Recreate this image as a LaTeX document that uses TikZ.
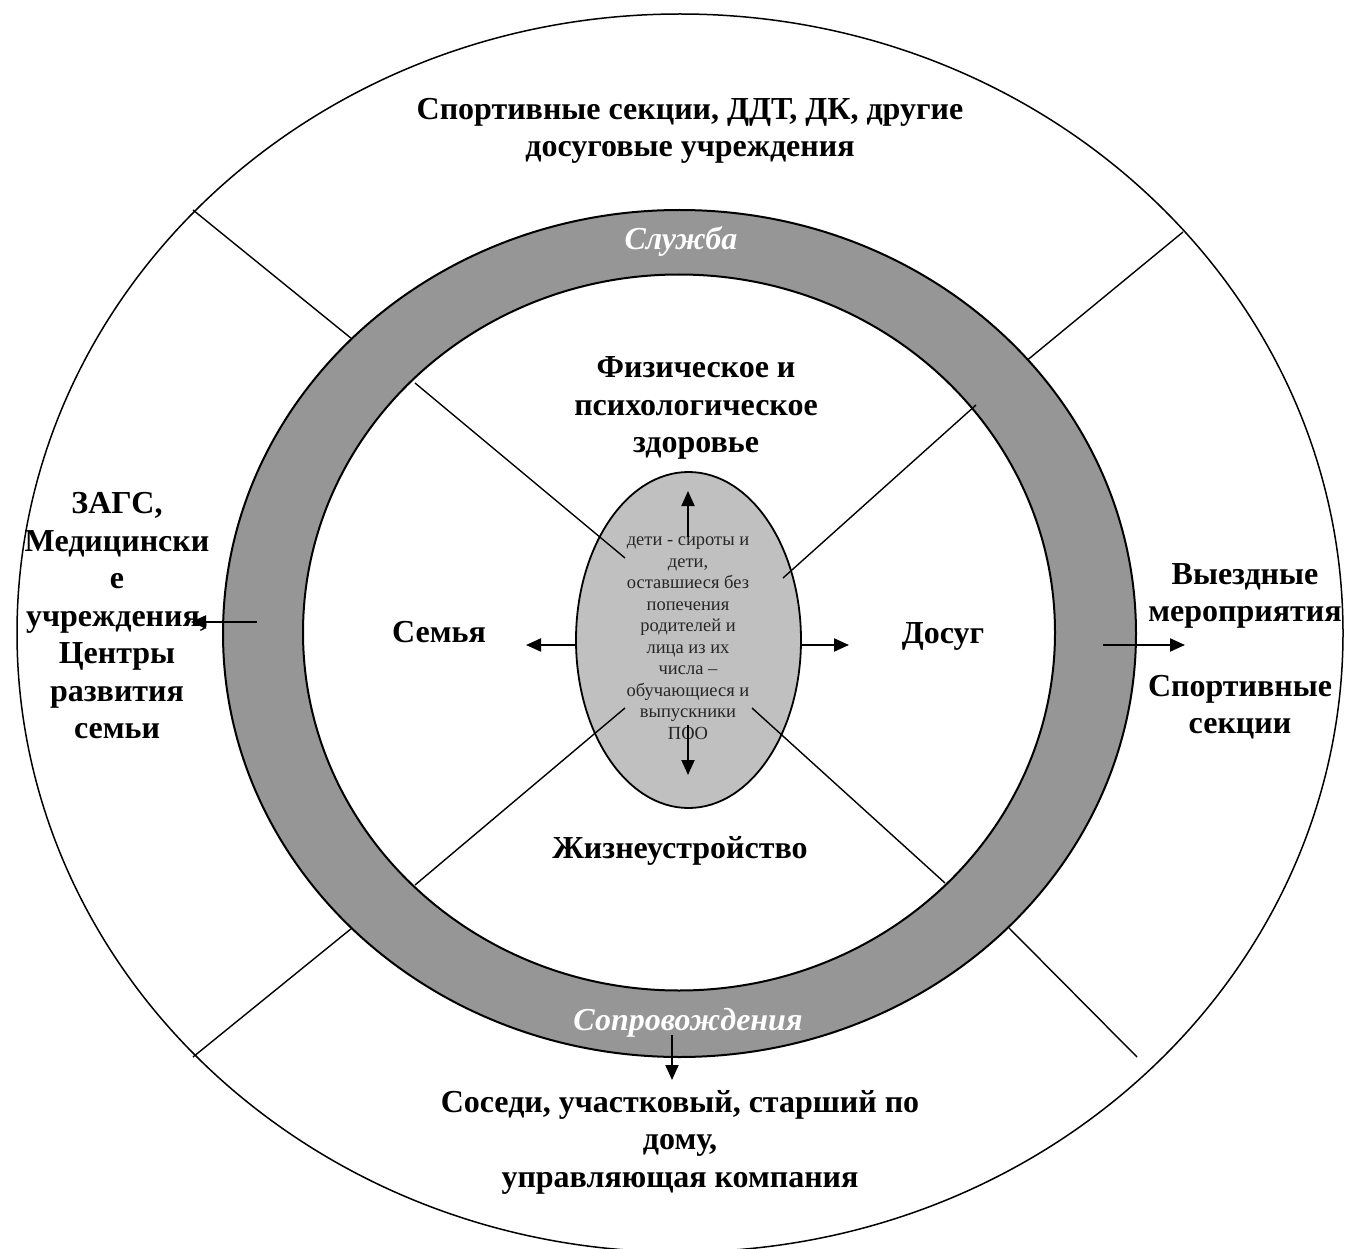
\documentclass[tikz,border=0pt]{standalone}
\usepackage{fontspec}
\setmainfont{Liberation Serif}
\usetikzlibrary{arrows.meta,shapes.geometric}
\definecolor{ringgray}{gray}{0.59}
\definecolor{coregray}{gray}{0.753}
\begin{document}
\begin{tikzpicture}[x=1pt,y=-1pt,
  lbl/.style={font=\fontsize{32}{37.5}\selectfont\bfseries, align=center, inner sep=0pt},
  ringlbl/.style={font=\fontsize{32}{37.5}\selectfont\bfseries\itshape, text=white, inner sep=0pt},
  sepline/.style={line width=1.4pt},
  arr/.style={line width=2pt, -{Triangle[length=15pt,width=13pt]}}]
\useasboundingbox (0,0) rectangle (1347,1249);
\fill[white] (0,0) rectangle (1347,1249);
% outer ellipse
\draw[line width=1.5pt] (680,633) ellipse [x radius=663, y radius=619];
% outer separators
\draw[sepline] (193,210) -- (352,339);
\draw[sepline] (1183,232) -- (1025,362);
\draw[sepline] (193,1057) -- (352,928);
\draw[sepline] (1137,1057) -- (1009,928);
% gray ring
\fill[ringgray, even odd rule] (679.5,633.5) ellipse [x radius=456.5, y radius=423.5]
  (679,632.5) ellipse [x radius=376, y radius=358];
\draw[line width=2pt] (679.5,633.5) ellipse [x radius=456.5, y radius=423.5];
\draw[line width=2pt] (679,632.5) ellipse [x radius=376, y radius=358];
% core ellipse
\node[ellipse, draw, line width=1.8pt, fill=coregray, minimum width=225pt, minimum height=336pt, inner sep=0pt] (core) at (688.5,640) {};
\node[align=center, inner sep=0pt, font=\fontsize{18.5}{21.5}\selectfont, text=black!85] (coretext) at (688,638)
  {дети - сироты и\\дети,\\оставшиеся без\\попечения\\родителей и\\лица из их\\числа –\\обучающиеся и\\выпускники\\ПОО};
% inner separators
\draw[sepline] (415,383) -- (625,558);
\draw[sepline] (976,405) -- (783,578);
\draw[sepline] (415,885) -- (625,708);
\draw[sepline] (945,883) -- (752,708);
% labels
\node[lbl] (top) at (690,131) {Спортивные секции, ДДТ, ДК, другие\\досуговые учреждения};
\node[ringlbl] (sluzhba) at (681,242) {Служба};
\node[ringlbl] (soprov) at (688,1023) {Сопровождения};
\node[lbl] (health) at (696,408) {Физическое и\\психологическое\\здоровье};
\node[lbl] (family) at (439,632) {Семья};
\node[lbl] (leisure) at (943,636) {Досуг};
\node[lbl] (life) at (680,851) {Жизнеустройство};
\node[lbl] (left) at (117,616) {ЗАГС,\\Медицински\\е\\учреждения,\\Центры\\развития\\семьи};
\node[lbl] (right1) at (1245,596) {Выездные\\мероприятия};
\node[lbl] (right2) at (1240,707) {Спортивные\\секции};
\node[lbl] (bottom) at (680,1142) {Соседи, участковый, старший по\\дому,\\управляющая компания};
% arrow coordinates
\coordinate (upS) at (688,537); \coordinate (upE) at (688,491);
\coordinate (dnS) at (688,725); \coordinate (dnE) at (688,775);
\coordinate (lfS) at (core.west |- 0,645); \coordinate (lfE) at (526,645);
\coordinate (rtS) at (core.east |- 0,645); \coordinate (rtE) at (849,645);
\coordinate (orS) at (1103,645); \coordinate (orE) at (1185,645);
\coordinate (olS) at (257,622); \coordinate (olE) at (191,622);
\coordinate (btS) at (672,1035); \coordinate (btE) at (672,1080);
\draw[arr] (upS) -- (upE);
\draw[arr] (dnS) -- (dnE);
\draw[arr] (lfS) -- (lfE);
\draw[arr] (rtS) -- (rtE);
\draw[arr] (orS) -- (orE);
\draw[arr] (olS) -- (olE);
\draw[arr] (btS) -- (btE);
\end{tikzpicture}
\end{document}
